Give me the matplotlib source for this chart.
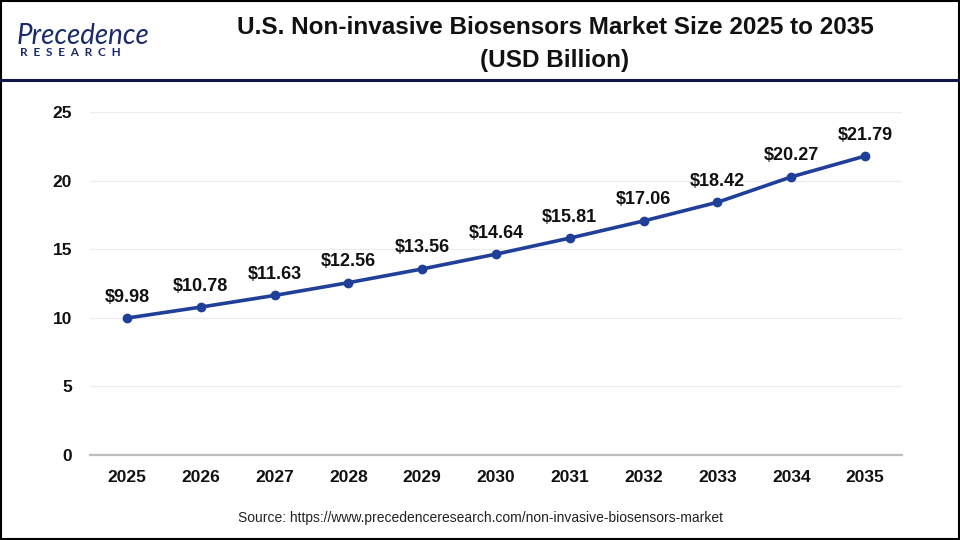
import matplotlib
matplotlib.use("Agg")
import matplotlib.pyplot as plt
from matplotlib.lines import Line2D
from matplotlib.patches import Rectangle

years = ["2025", "2026", "2027", "2028", "2029", "2030", "2031", "2032", "2033", "2034", "2035"]
values = [9.98, 10.78, 11.63, 12.56, 13.56, 14.64, 15.81, 17.06, 18.42, 20.27, 21.79]
labels = ["$9.98", "$10.78", "$11.63", "$12.56", "$13.56", "$14.64", "$15.81", "$17.06", "$18.42", "$20.27", "$21.79"]
yticks = [0, 5, 10, 15, 20, 25]

title_lines = ["U.S. Non-invasive Biosensors Market Size 2025 to 2035", "(USD Billion)"]
source = "Source: https://www.precedenceresearch.com/non-invasive-biosensors-market"

plt.rcParams['font.family'] = ['Liberation Sans', 'DejaVu Sans']

fig = plt.figure(figsize=(9.6, 5.4), dpi=100)
fig.patch.set_facecolor("white")

ax = fig.add_axes([90/960, 1-455/540, (902-90)/960, (455-112)/540])
x = list(range(len(years)))
ax.plot(x, values, color="#1f3f99", lw=2.6, marker="o", ms=6, zorder=3)
for xi, v, lab in zip(x, values, labels):
    ax.annotate(lab, (xi, v), xytext=(0, 9), textcoords="offset points",
                ha="center", va="bottom", fontsize=13, fontweight="bold", color="#111111")
ax.set_xlim(-0.5, len(years) - 0.5)
ax.set_ylim(0, 25)
ax.set_xticks(x)
ax.set_xticklabels(years)
ax.set_yticks(yticks)
ax.grid(axis="y", color="#ececec", lw=0.9)
ax.set_axisbelow(True)
for s in ["top", "right", "left"]:
    ax.spines[s].set_visible(False)
ax.spines["bottom"].set_color("#bdbdbd")
ax.spines["bottom"].set_linewidth(1.6)
ax.tick_params(axis="both", length=0, labelsize=12.5, colors="#111111")
ax.tick_params(axis="x", pad=11)
ax.tick_params(axis="y", pad=13)
for t in ax.get_xticklabels() + ax.get_yticklabels():
    t.set_fontweight("bold")

# header
fig.text(555/960, 1-27/540, title_lines[0], ha="center", va="center", fontsize=17.5,
         fontweight="bold", color="#111111")
fig.text(555/960, 1-60/540, title_lines[1], ha="center", va="center", fontsize=17.5,
         fontweight="bold", color="#111111")
fig.add_artist(Line2D([0, 1], [1-80/540, 1-80/540], color="#13164a", lw=2.2, transform=fig.transFigure))

# logo
fig.text(17/960, 1-36/540, "Precedence", ha="left", va="center", fontsize=20, color="#1b2a6b",
         style="italic", family=["Lato", "DejaVu Sans"])
fig.text(20/960, 1-53/540, "R  E  S  E  A  R  C  H", ha="left", va="center", fontsize=8.5, color="#1b2a6b",
         fontweight="bold", family=["Lato", "DejaVu Sans"])

fig.text(480/960, 1-518/540, source, ha="center", va="center", fontsize=10, color="#222222")

fig.add_artist(Rectangle((0.001, 0.001), 0.998, 0.998, fill=False, edgecolor="black", lw=1.5,
                         transform=fig.transFigure))

fig.savefig("out.png", dpi=100, facecolor="white")
